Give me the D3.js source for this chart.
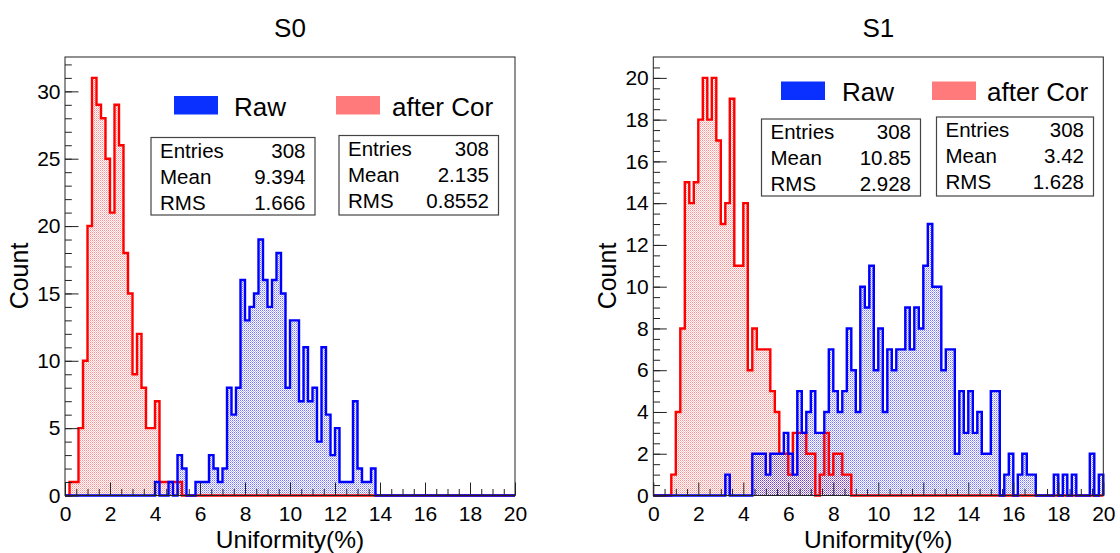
<!DOCTYPE html>
<html lang="en">
<head>
<meta charset="UTF-8">
<title>S0 / S1 Uniformity</title>
<script src="https://d3js.org/d3.v7.min.js"></script>
<style>
  body { margin: 0; background: #fff; }
  svg { display: block; font-family: "Liberation Sans", Arial, Helvetica, sans-serif; }
  .axis line { stroke: #222; }
  .axis text { font-size: 21px; fill: #000; }
  .frame { fill: none; stroke: #222; stroke-width: 1; }
</style>
</head>
<body>
<svg width="1120" height="553"></svg>
<script>
// bin width 0.2, 100 bins from 0 to 20
const binWidth = 0.2;

// S0 panel
const s0Raw = [
  0,0,0,0,0,0,0,0,0,0,
  0,0,0,0,0,0,0,0,0,0,
  1,0,0,1,0,3,2,0,0,1,
  1,1,3,2,1,2,8,6,8,16,
  13,14,15,19,16,14,16,18,15,8,
  13,13,7,11,7,8,4,11,6,3,
  5,1,1,1,7,2,1,1,2,0,
  0,0,0,0,0,0,0,0,0,0,
  0,0,0,0,0,0,0,0,0,0,
  0,0,0,0,0,0,0,0,0,0
];
const s0Cor = [
  0,1,1,5,10,20,31,29,28,25,
  21,29,26,18,15,9,12,8,5,5,
  7,1,1,1,1,1,0,0,0,0,
  0,0,0,0,0,0,0,0,0,0,
  0,0,0,0,0,0,0,0,0,0,
  0,0,0,0,0,0,0,0,0,0,
  0,0,0,0,0,0,0,0,0,0,
  0,0,0,0,0,0,0,0,0,0,
  0,0,0,0,0,0,0,0,0,0,
  0,0,0,0,0,0,0,0,0,0
];

// S1 panel
const s1Raw = [
  0,0,0,0,0,0,0,0,0,0,
  0,0,0,0,0,0,1,0,0,0,
  0,0,2,2,2,1,2,2,2,3,
  2,1,5,3,4,5,3,3,4,7,
  5,4,5,8,6,4,10,9,11,6,
  8,4,7,6,7,7,9,7,9,8,
  11,13,10,10,6,7,7,2,5,3,
  5,3,4,2,2,5,5,0,1,2,
  0,1,2,1,1,0,0,0,0,1,
  0,1,0,1,0,0,0,2,0,1
];
const s1Cor = [
  0,0,0,0,1,4,8,15,14,15,
  18,20,18,20,17,13,14,19,11,11,
  14,6,8,7,7,7,5,4,2,2,
  1,3,3,3,2,2,0,1,3,1,
  2,2,1,1,0,0,0,0,0,0,
  0,0,0,0,0,0,0,0,0,0,
  0,0,0,0,0,0,0,0,0,0,
  0,0,0,0,0,0,0,0,0,0,
  0,0,0,0,0,0,0,0,0,0,
  0,0,0,0,0,0,0,0,0,0
];

const statLabels = ["Entries", "Mean", "RMS"];
const s0RawStats = ["308", "9.394", "1.666"];
const s0CorStats = ["308", "2.135", "0.8552"];
const s1RawStats = ["308", "10.85", "2.928"];
const s1CorStats = ["308", "3.42", "1.628"];

const legendNames = ["Raw", "after Cor"];
const xTicks = d3.range(0, 21, 2);

const svg = d3.select("svg");
const defs = svg.append("defs");

// ROOT-like dotted fill
function dotPattern(id, color, a1, a2) {
  const p = defs.append("pattern")
    .attr("id", id)
    .attr("patternUnits", "userSpaceOnUse")
    .attr("width", 2).attr("height", 2);
  p.append("rect").attr("x", 0).attr("y", 0).attr("width", 1).attr("height", 1)
    .attr("fill", color).attr("fill-opacity", a1);
  p.append("rect").attr("x", 1).attr("y", 1).attr("width", 1).attr("height", 1)
    .attr("fill", color).attr("fill-opacity", a2);
}
dotPattern("dotBlue", "#0000ff", 0.55, 0.3);
dotPattern("dotRed", "#ff0000", 0.45, 0.25);

function histPoints(counts) {
  const pts = [[0, 0]];
  counts.forEach((c, i) => {
    pts.push([i * binWidth, c], [(i + 1) * binWidth, c]);
  });
  pts.push([20, 0]);
  return pts;
}

function drawPanel(p) {
  const g = svg.append("g");
  const x = d3.scaleLinear().domain([0, 20]).range([p.left, p.left + 450]);
  const y = d3.scaleLinear().domain([0, p.yMax]).range([495.5, 57]);

  const area = d3.area().x(d => x(d[0])).y0(y(0)).y1(d => y(d[1]));
  const line = d3.line().x(d => x(d[0])).y(d => y(d[1]));

  const series = [[p.cor, "dotRed", "#ff0000"], [p.raw, "dotBlue", "#0000ff"]];
  // fills first, then outlines (raw outline on top)
  series.forEach(([counts, pat]) => {
    g.append("path").attr("d", area(histPoints(counts))).attr("fill", `url(#${pat})`);
  });
  series.forEach(([counts, , col]) => {
    g.append("path").attr("d", line(histPoints(counts)))
      .attr("fill", "none").attr("stroke", col).attr("stroke-width", 2.4)
      .attr("stroke-linejoin", "miter");
  });

  // frame
  g.append("rect").attr("class", "frame")
    .attr("x", x(0)).attr("y", y(p.yMax))
    .attr("width", x(20) - x(0)).attr("height", y(0) - y(p.yMax));

  // x axis
  const xMinor = d3.range(0, 20.01, 0.5).filter(v => v % 2 !== 0);
  g.append("g").attr("class", "axis")
    .attr("transform", `translate(0,${y(0)})`)
    .call(d3.axisBottom(x).tickValues(xMinor).tickSize(-6.5).tickFormat(""))
    .call(a => a.select(".domain").remove());
  g.append("g").attr("class", "axis")
    .attr("transform", `translate(0,${y(0)})`)
    .call(d3.axisBottom(x).tickValues(xTicks).tickSize(-13).tickSizeOuter(0)
      .tickPadding(11).tickFormat(d3.format("d")))
    .call(a => a.select(".domain").remove())
    .attr("font-size", null).attr("font-family", null);

  // y axis
  g.append("g").attr("class", "axis")
    .attr("transform", `translate(${x(0)},0)`)
    .call(d3.axisLeft(y).tickValues(p.yMinor).tickSize(-6.8).tickFormat(""))
    .call(a => a.select(".domain").remove());
  g.append("g").attr("class", "axis")
    .attr("transform", `translate(${x(0)},0)`)
    .call(d3.axisLeft(y).tickValues(p.yMajor).tickSize(-13.5).tickSizeOuter(0)
      .tickPadding(4.5).tickFormat(d3.format("d")))
    .call(a => a.select(".domain").remove())
    .attr("font-size", null).attr("font-family", null);

  // titles
  g.append("text").attr("x", x(10)).attr("y", 37)
    .attr("text-anchor", "middle").attr("font-size", 26).text(p.title);
  g.append("text").attr("x", x(10)).attr("y", 548)
    .attr("text-anchor", "middle").attr("font-size", 24.5).text("Uniformity(%)");
  g.append("text")
    .attr("transform", `translate(${x(0) - 37},276) rotate(-90)`)
    .attr("text-anchor", "middle").attr("font-size", 25).text("Count");

  // legend
  const legColors = ["#0a30ff", "#ff7b7b"];
  p.legend.forEach((L, i) => {
    g.append("rect").attr("x", L.x).attr("y", L.y).attr("width", 44).attr("height", 18.5)
      .attr("fill", legColors[i]);
    g.append("text").attr("x", L.tx).attr("y", L.y + 19.5)
      .attr("font-size", 26).text(legendNames[i]);
  });

  // stat boxes
  [[p.rawBox, p.rawStats], [p.corBox, p.corStats]].forEach(([b, vals]) => {
    g.append("rect").attr("x", b.x).attr("y", b.y).attr("width", b.w).attr("height", b.h)
      .attr("fill", "#fff").attr("stroke", "#444").attr("stroke-width", 1.2);
    statLabels.forEach((lab, i) => {
      const by = b.y + 20 + i * 26;
      g.append("text").attr("x", b.x + 9).attr("y", by)
        .attr("font-size", 20.5).text(lab);
      g.append("text").attr("x", b.x + b.w - 9.5).attr("y", by)
        .attr("text-anchor", "end").attr("font-size", 20.5).text(vals[i]);
    });
  });
}

drawPanel({
  title: "S0", left: 65, yMax: 32.55,
  yMajor: d3.range(0, 31, 5), yMinor: d3.range(0, 32.5, 1),
  raw: s0Raw, cor: s0Cor, rawStats: s0RawStats, corStats: s0CorStats,
  legend: [{x: 174, y: 96, tx: 234}, {x: 336, y: 96, tx: 392}],
  rawBox: {x: 151, y: 137.5, w: 164, h: 77.5},
  corBox: {x: 339, y: 135.5, w: 159.5, h: 79.5}
});

drawPanel({
  title: "S1", left: 653.3, yMax: 21,
  yMajor: d3.range(0, 21, 2), yMinor: d3.range(0, 21, 0.5),
  raw: s1Raw, cor: s1Cor, rawStats: s1RawStats, corStats: s1CorStats,
  legend: [{x: 781, y: 81.5, tx: 842}, {x: 932, y: 81.5, tx: 987}],
  rawBox: {x: 761.5, y: 119, w: 159, h: 77},
  corBox: {x: 936.5, y: 117, w: 157, h: 79}
});
</script>
</body>
</html>
